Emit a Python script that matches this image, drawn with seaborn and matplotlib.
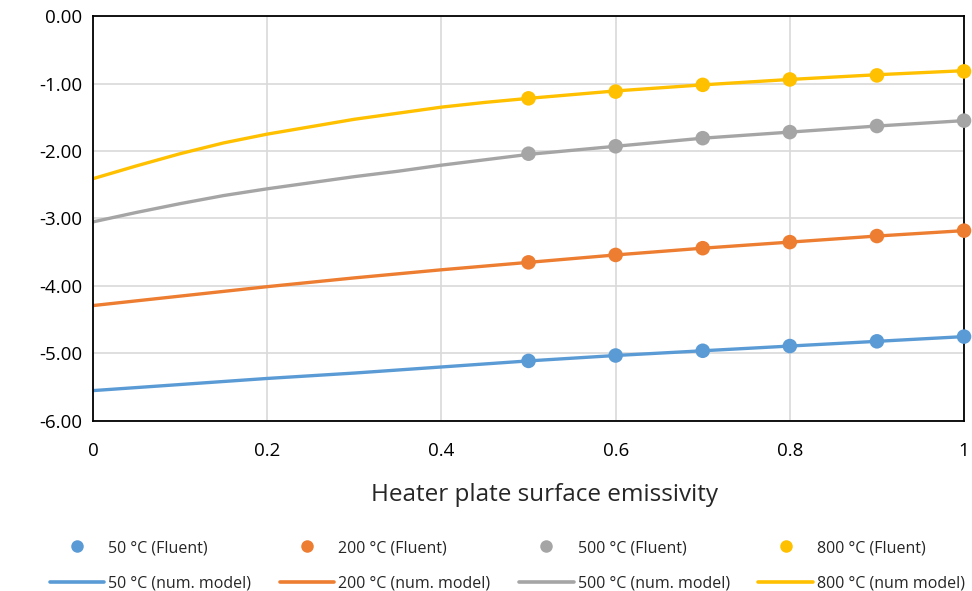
import pandas as pd
import seaborn as sns
import matplotlib.pyplot as plt
from matplotlib.lines import Line2D

# model curves (num. model)
eps_model = [0.0, 0.1, 0.2, 0.3, 0.4, 0.5, 0.6, 0.7, 0.8, 0.9, 1.0]
model_50 = [-5.55, -5.46, -5.37, -5.29, -5.20, -5.11, -5.03, -4.96, -4.89, -4.82, -4.75]
model_200 = [-4.29, -4.15, -4.01, -3.88, -3.76, -3.65, -3.54, -3.44, -3.35, -3.26, -3.18]

# the two upper curves bend more, so they were read at a finer step
eps_fine = [0.0, 0.05, 0.1, 0.15, 0.2, 0.25, 0.3, 0.35, 0.4, 0.45, 0.5,
            0.6, 0.7, 0.8, 0.9, 1.0]
model_500 = [-3.05, -2.91, -2.78, -2.66, -2.56, -2.47, -2.38, -2.30, -2.21, -2.13, -2.05,
             -1.93, -1.81, -1.72, -1.63, -1.55]
model_800 = [-2.41, -2.22, -2.04, -1.88, -1.75, -1.64, -1.53, -1.44, -1.35, -1.28, -1.22,
             -1.11, -1.02, -0.94, -0.87, -0.81]

# Fluent points
eps_fluent = [0.5, 0.6, 0.7, 0.8, 0.9, 1.0]
fluent_50 = [-5.11, -5.03, -4.96, -4.89, -4.82, -4.75]
fluent_200 = [-3.65, -3.54, -3.44, -3.35, -3.26, -3.18]
fluent_500 = [-2.04, -1.93, -1.81, -1.72, -1.63, -1.55]
fluent_800 = [-1.22, -1.12, -1.02, -0.94, -0.88, -0.82]

temps = ["50", "200", "500", "800"]
colors = ["#5B9BD5", "#ED7D31", "#A5A5A5", "#FFC000"]
fluent_labels = ["50 °C (Fluent)", "200 °C (Fluent)", "500 °C (Fluent)", "800 °C (Fluent)"]
model_labels = ["50 °C (num. model)", "200 °C (num. model)", "500 °C (num. model)", "800 °C (num model)"]

model_df = pd.concat([
    pd.DataFrame({"eps": e, "val": v, "T": t})
    for t, e, v in zip(temps, [eps_model, eps_model, eps_fine, eps_fine],
                       [model_50, model_200, model_500, model_800])
])
fluent_df = pd.concat([
    pd.DataFrame({"eps": eps_fluent, "val": v, "T": t})
    for t, v in zip(temps, [fluent_50, fluent_200, fluent_500, fluent_800])
])

sns.set_style("white")
plt.rcParams["font.family"] = ["Open Sans", "DejaVu Sans"]

fig = plt.figure(figsize=(9.72, 5.91), dpi=100)
ax = fig.add_axes([0.0957, 0.2877, 0.8961, 0.6852])

pal = dict(zip(temps, colors))
sns.lineplot(data=model_df, x="eps", y="val", hue="T", palette=pal, linewidth=2.4,
             ax=ax, legend=False, zorder=2)
sns.scatterplot(data=fluent_df, x="eps", y="val", hue="T", palette=pal, s=110,
                edgecolor="none", ax=ax, legend=False, zorder=3, clip_on=False)

ax.set_xlim(0, 1)
ax.set_ylim(-6, 0)
ax.set_xticks([0, 0.2, 0.4, 0.6, 0.8, 1.0])
ax.set_xticklabels(["0", "0.2", "0.4", "0.6", "0.8", "1"])
ax.set_yticks([0, -1, -2, -3, -4, -5, -6])
ax.set_yticklabels(["0.00", "-1.00", "-2.00", "-3.00", "-4.00", "-5.00", "-6.00"])
ax.tick_params(axis="both", length=0, labelsize=13.5, colors="black")
ax.tick_params(axis="x", pad=15)
ax.tick_params(axis="y", pad=8)
ax.grid(True, color="#D9D9D9", linewidth=1.2)
ax.set_axisbelow(True)
for sp in ax.spines.values():
    sp.set_color("black")
    sp.set_linewidth(1.3)
    sp.set_visible(True)

ax.set_xlabel("Heater plate surface emissivity", fontsize=17.5)
ax.xaxis.set_label_coords(0.518, -0.183)
ax.xaxis.label.set_va("center")
ax.set_ylabel("")

handles = []
labels = []
for c, fl, ml in zip(colors, fluent_labels, model_labels):
    handles.append(Line2D([], [], linestyle="none", marker="o", markersize=9,
                          markerfacecolor=c, markeredgecolor="none"))
    labels.append(fl)
    handles.append(Line2D([], [], color=c, linewidth=2.6))
    labels.append(ml)

fig.legend(handles, labels, ncol=4, loc="center", bbox_to_anchor=(0.522, 0.043),
           frameon=False, fontsize=11.5, handlelength=3.4, handletextpad=0.25,
           columnspacing=1.8, labelspacing=1.2)

plt.savefig("out.png", dpi=100)
